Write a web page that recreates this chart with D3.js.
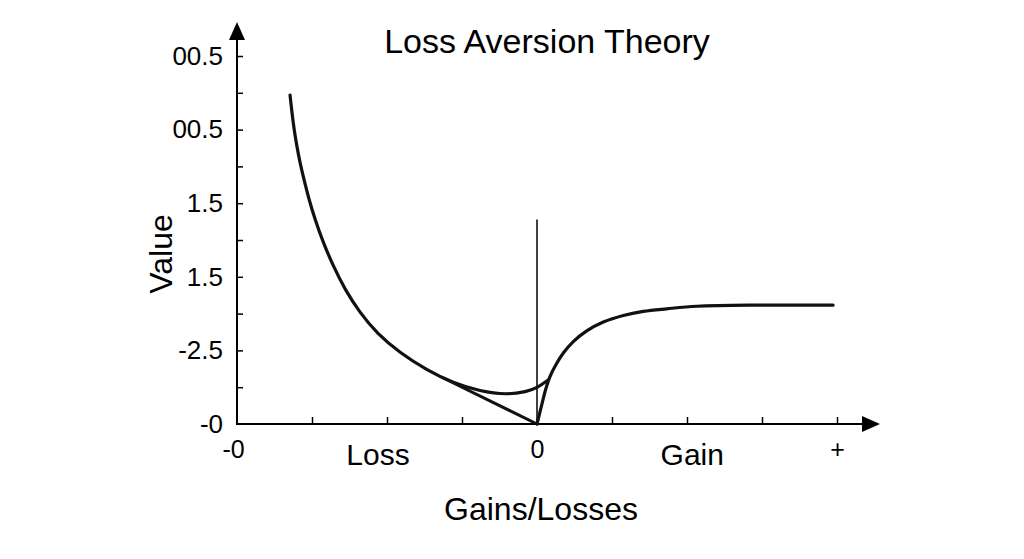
<!DOCTYPE html>
<html>
<head>
<meta charset="utf-8">
<script src="https://cdn.jsdelivr.net/npm/d3@7/dist/d3.min.js"></script>
<style>
  html, body { margin: 0; padding: 0; background: #fff; }
  svg { display: block; }
  svg text { font-family: "Liberation Sans", Arial, sans-serif; fill: #000; }
</style>
</head>
<body>
<div id="chart"></div>
<script>
// values
const lossX = [-3.293, -3.268, -3.239, -3.203, -3.160, -3.108, -3.040, -2.960, -2.849, -2.716, -2.560,
               -2.360, -2.137, -1.827, -1.471, -1.116, -0.760, -0.404, -0.137, -0.004, 0.151];
const lossY = [8.94, 8.47, 8.01, 7.56, 7.10, 6.65, 6.10, 5.56, 4.92, 4.29, 3.65,
               3.02, 2.47, 1.93, 1.47, 1.11, 0.89, 0.79, 0.88, 0.97, 1.20];

const tangentX = [-1.25, 0];
const tangentY = [1.25, 0];

const gainX = [0, 0.063, 0.120, 0.173, 0.263, 0.351, 0.484, 0.663, 0.884, 1.151, 1.417, 1.729, 2.133, 2.973, 3.947];
const gainY = [0, 0.52, 0.97, 1.29, 1.65, 1.93, 2.24, 2.53, 2.77, 2.95, 3.06, 3.13, 3.20, 3.23, 3.23];

const refX = [0, 0];
const refY = [0, 5.56];

const xTicks = [-4, -3, -2, -1, 0, 1, 2, 3, 4];
const xTickLabels = { "-4": "-0", "0": "0", "4": "+" };
const yTicks = [0, 1, 2, 3, 4, 5, 6, 7, 8, 9, 10];
const yTickLabels = { 0: "-0", 2: "-2.5", 4: "1.5", 6: "1.5", 8: "00.5", 10: "00.5" };
const sideLabels = [{ x: -2.12, text: "Loss" }, { x: 2.07, text: "Gain" }];

const width = 1024, height = 559;

const svg = d3.select("#chart").append("svg")
  .attr("width", width)
  .attr("height", height);

const x = d3.scaleLinear().domain([-4, 4]).range([237, 837]);
const y = d3.scaleLinear().domain([0, 10]).range([424, 56]);

// title
svg.append("text")
  .attr("x", 547).attr("y", 53)
  .attr("text-anchor", "middle")
  .style("font-size", "34px")
  .text("Loss Aversion Theory");

// x axis
const xAxis = svg.append("g")
  .attr("transform", `translate(0,${y(0)})`)
  .call(d3.axisBottom(x).tickValues(xTicks)
    .tickSizeInner(-7).tickSizeOuter(0)
    .tickFormat(d => xTickLabels[d] || ""));
xAxis.select(".domain").remove();
xAxis.selectAll(".tick line").attr("stroke", "#000").attr("stroke-width", 1.5)
  .filter(d => d === -4 || d === 0).remove();
xAxis.selectAll(".tick text")
  .attr("dy", "0.71em")
  .attr("y", 16)
  .attr("dx", d => d === -4 ? -4 : 0)
  .style("font-size", "25px");

// y axis
const yAxis = svg.append("g")
  .attr("transform", `translate(${x(-4)},0)`)
  .call(d3.axisLeft(y).tickValues(yTicks)
    .tickSizeInner(-6).tickSizeOuter(0).tickPadding(14)
    .tickFormat(d => yTickLabels[d] || ""));
yAxis.select(".domain").remove();
yAxis.selectAll(".tick line").attr("stroke", "#000").attr("stroke-width", 1.5)
  .filter(d => d === 0).remove();
yAxis.selectAll(".tick text")
  .style("font-size", "26px");

// axis lines with arrowheads
const xEnd = x(4) + 43, yEnd = y(10) - 34;
svg.append("line")
  .attr("x1", x(-4)).attr("x2", xEnd - 14)
  .attr("y1", y(0)).attr("y2", y(0))
  .attr("stroke", "#000").attr("stroke-width", 2);
svg.append("path")
  .attr("d", `M${xEnd},${y(0)} L${xEnd - 18},${y(0) - 8} L${xEnd - 18},${y(0) + 8} Z`)
  .attr("fill", "#000");
svg.append("line")
  .attr("x1", x(-4)).attr("x2", x(-4))
  .attr("y1", y(0) + 1).attr("y2", yEnd + 14)
  .attr("stroke", "#000").attr("stroke-width", 2);
svg.append("path")
  .attr("d", `M${x(-4)},${yEnd} L${x(-4) - 8},${yEnd + 18} L${x(-4) + 8},${yEnd + 18} Z`)
  .attr("fill", "#000");

// Loss / Gain labels
svg.selectAll(".side")
  .data(sideLabels)
  .join("text")
  .attr("class", "side")
  .attr("x", d => x(d.x))
  .attr("y", 465)
  .attr("text-anchor", "middle")
  .style("font-size", "30px")
  .text(d => d.text);

// axis titles
svg.append("text")
  .attr("x", 541).attr("y", 520)
  .attr("text-anchor", "middle")
  .style("font-size", "32px")
  .text("Gains/Losses");
svg.append("text")
  .attr("transform", `translate(172,254) rotate(-90)`)
  .attr("text-anchor", "middle")
  .style("font-size", "32px")
  .text("Value");

// reference vertical line at zero
svg.append("path")
  .datum(d3.zip(refX, refY))
  .attr("fill", "none")
  .attr("stroke", "#111")
  .attr("stroke-width", 1.6)
  .attr("d", d3.line().x(d => x(d[0])).y(d => y(d[1])));

const line = d3.line()
  .x(d => x(d[0]))
  .y(d => y(d[1]));

svg.append("path")
  .datum(d3.zip(tangentX, tangentY))
  .attr("fill", "none")
  .attr("stroke", "#111")
  .attr("stroke-width", 3)
  .attr("stroke-linecap", "round")
  .attr("d", line);

svg.append("path")
  .datum(d3.zip(lossX, lossY))
  .attr("fill", "none")
  .attr("stroke", "#111")
  .attr("stroke-width", 3.2)
  .attr("stroke-linecap", "round")
  .attr("d", line.curve(d3.curveBasis));

svg.append("path")
  .datum(d3.zip(gainX, gainY))
  .attr("fill", "none")
  .attr("stroke", "#111")
  .attr("stroke-width", 3.2)
  .attr("stroke-linecap", "round")
  .attr("d", line.curve(d3.curveCatmullRom.alpha(0.5)));
</script>
</body>
</html>
